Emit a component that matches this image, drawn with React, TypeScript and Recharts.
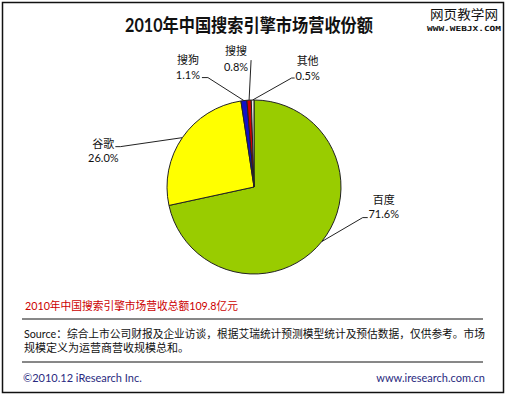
import { PieChart, Pie, Cell } from "recharts"

const engines = ["百度", "谷歌", "搜狗", "搜搜", "其他"]
const shares = [71.6, 26.0, 1.1, 0.8, 0.5]

const chartTitle = "2010年中国搜索引擎市场营收份额"
const totalNote = "2010年中国搜索引擎市场营收总额109.8亿元"
const sourceLines = [
  "Source：综合上市公司财报及企业访谈，根据艾瑞统计预测模型统计及预估数据，仅供参考。市场",
  "规模定义为运营商营收规模总和。",
]
const copyright = "©2010.12 iResearch Inc."
const site = "www.iresearch.com.cn"

const sliceColors = ["#99cc00", "#ffff00", "#1010c8", "#d00000", "#e8e8e8"]

// leader line layout per slice: elbow offset from the slice edge, tail, text block offset from elbow
const labelLayout = [
  { ex: 41, ey: -24, tail: 5, tx: 21, ny: -18, vy: -4 },
  { ex: -62, ey: 9, tail: -5, tx: -17, ny: -3, vy: 11 },
  { ex: -36, ey: -23, tail: -6, tx: -20, ny: -18, vy: -3 },
  { ex: 2, ey: -40, tail: 0, tx: -15, ny: -10, vy: 6 },
  { ex: 39, ey: -22, tail: 3, tx: 16, ny: -18, vy: -3 },
]

const data = engines.map((name, i) => ({ name, value: shares[i] }))

const FONT = "Lato, 'Noto Sans CJK SC', sans-serif"
const RAD = Math.PI / 180

function SliceLabel(props: any) {
  const { cx, cy, midAngle, outerRadius, index } = props
  const l = labelLayout[index]
  const sx = cx + outerRadius * Math.cos(-midAngle * RAD)
  const sy = cy + outerRadius * Math.sin(-midAngle * RAD)
  const ex = sx + l.ex
  const ey = sy + l.ey
  return (
    <g>
      <polyline
        points={`${sx},${sy} ${ex},${ey} ${ex + l.tail},${ey}`}
        fill="none"
        stroke="#222"
        strokeWidth={1}
      />
      <text x={ex + l.tx} y={ey + l.ny} textAnchor="middle" dominantBaseline="central" fontSize={11} fill="#111" fontFamily={FONT}>
        {engines[index]}
      </text>
      <text x={ex + l.tx} y={ey + l.vy} textAnchor="middle" dominantBaseline="central" fontSize={11} fill="#111" fontFamily={FONT}>
        {shares[index].toFixed(1)}%
      </text>
    </g>
  )
}

export default function App() {
  return (
    <div style={{ position: "absolute", left: 0, top: 0, width: 507, height: 398, background: "#fff" }}>
      <PieChart width={507} height={398} style={{ position: "absolute", left: 0, top: 0 }}>
        <Pie
          data={data}
          dataKey="value"
          nameKey="name"
          cx={249}
          cy={182}
          outerRadius={87}
          startAngle={90}
          endAngle={-270}
          stroke="#222"
          strokeWidth={1}
          labelLine={false}
          label={SliceLabel}
          isAnimationActive={false}
        >
          {data.map((d, i) => (
            <Cell key={d.name} fill={sliceColors[i]} />
          ))}
        </Pie>
      </PieChart>
      <svg width={507} height={398} style={{ position: "absolute", left: 0, top: 0, pointerEvents: "none" }} fontFamily={FONT}>
        <rect x={2.5} y={2.5} width={501} height={390} fill="none" stroke="#111" strokeWidth={1.5} />
        <text x={249} y={25} textAnchor="middle" dominantBaseline="central" fontSize={18} fontWeight="bold" fill="#111" textLength={248} lengthAdjust="spacingAndGlyphs">
          {chartTitle}
        </text>
        <text x={464} y={13} textAnchor="middle" dominantBaseline="central" fontSize={13} fill="#111" fontFamily="'Noto Sans CJK SC'" textLength={68} lengthAdjust="spacingAndGlyphs">
          网页教学网
        </text>
        <text x={464} y={29} textAnchor="middle" dominantBaseline="central" fontSize={7} fontWeight="bold" fill="#111" fontFamily="'DejaVu Sans Mono'" textLength={74} lengthAdjust="spacingAndGlyphs">
          WWW.WEBJX.COM
        </text>
        <text x={25} y={305} dominantBaseline="central" fontSize={11} fill="#cc0000" textLength={213} lengthAdjust="spacingAndGlyphs">
          {totalNote}
        </text>
        <line x1={22} y1={319} x2={483} y2={319} stroke="#111" strokeWidth={1} />
        <text x={24} y={333} dominantBaseline="central" fontSize={11} fill="#111" textLength={461} lengthAdjust="spacingAndGlyphs">
          {sourceLines[0]}
        </text>
        <text x={24} y={347} dominantBaseline="central" fontSize={11} fill="#111">
          {sourceLines[1]}
        </text>
        <line x1={22} y1={362} x2={483} y2={362} stroke="#111" strokeWidth={1} />
        <text x={23} y={377} dominantBaseline="central" fontSize={11} fill="#2a2a80">
          {copyright}
        </text>
        <text x={485} y={377} textAnchor="end" dominantBaseline="central" fontSize={11} fill="#2a2a80">
          {site}
        </text>
      </svg>
    </div>
  )
}
